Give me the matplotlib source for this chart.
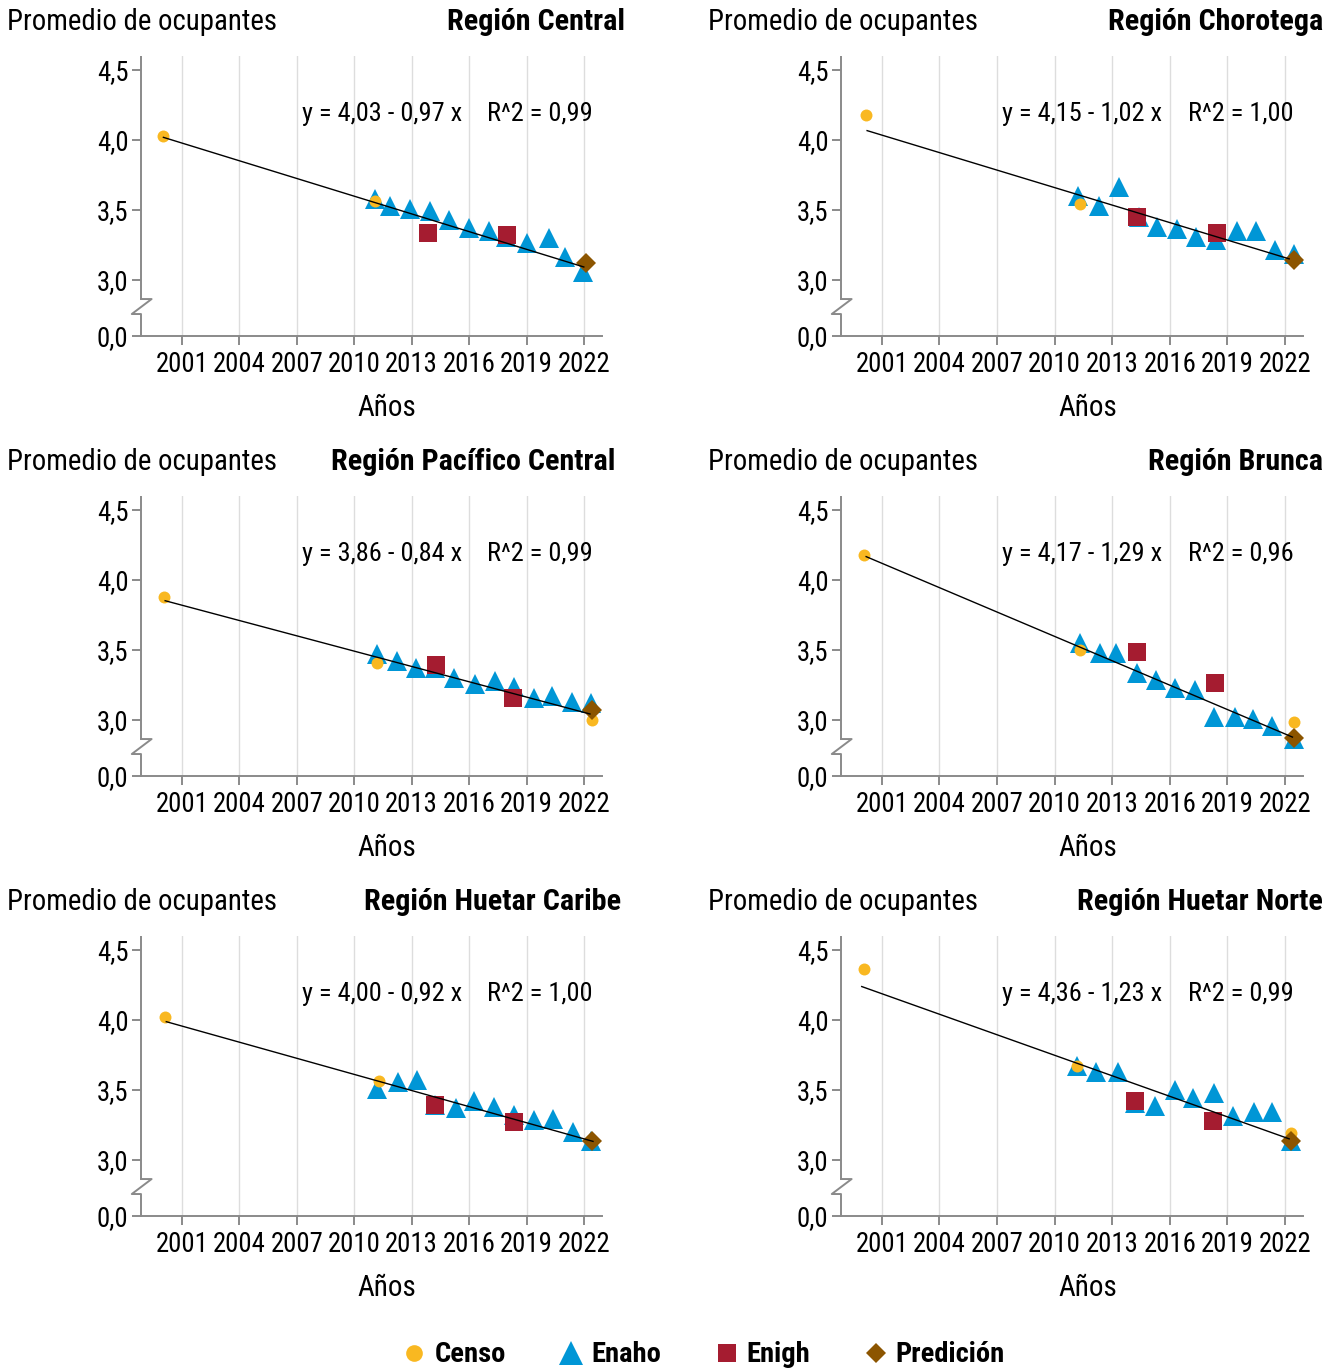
import numpy as np
import matplotlib
matplotlib.use('Agg')
import matplotlib.pyplot as plt
import matplotlib.transforms as mtransforms
from matplotlib import font_manager
from matplotlib.lines import Line2D

# --- data ---
regions = ['Región Central', 'Región Chorotega', 'Región Pacífico Central',
           'Región Brunca', 'Región Huetar Caribe', 'Región Huetar Norte']

censo_years = [[2000.04, 2011.10],
               [2000.15, 2011.30],
               [2000.08, 2011.19, 2022.43],
               [2000.09, 2011.30, 2022.48],
               [2000.13, 2011.30],
               [2000.09, 2011.19, 2022.34]]
censo_vals = [[4.031, 3.565],
              [4.182, 3.545],
              [3.880, 3.409, 3.002],
              [4.179, 3.500, 2.983],
              [4.024, 3.561],
              [4.366, 3.672, 3.194]]

enaho_years = [[2011.10, 2011.89, 2012.93, 2013.98, 2014.94, 2015.98, 2017.03, 2017.93, 2019.03, 2020.16, 2021.00, 2021.96],
               [2011.24, 2012.29, 2013.33, 2014.38, 2015.34, 2016.35, 2017.38, 2018.39, 2019.48, 2020.48, 2021.49, 2022.48],
               [2011.19, 2012.24, 2013.25, 2014.24, 2015.23, 2016.30, 2017.34, 2018.33, 2019.38, 2020.34, 2021.38, 2022.39],
               [2011.30, 2012.34, 2013.21, 2014.29, 2015.30, 2016.26, 2017.31, 2018.30, 2019.38, 2020.36, 2021.35, 2022.48],
               [2011.19, 2012.28, 2013.28, 2014.20, 2015.30, 2016.26, 2017.32, 2018.32, 2019.40, 2020.40, 2021.43, 2022.36],
               [2011.16, 2012.17, 2013.28, 2014.21, 2015.25, 2016.26, 2017.22, 2018.30, 2019.31, 2020.39, 2021.35, 2022.34]]
enaho_vals = [[3.581, 3.529, 3.505, 3.493, 3.428, 3.373, 3.352, 3.304, 3.261, 3.297, 3.163, 3.057],
              [3.603, 3.531, 3.665, 3.452, 3.378, 3.366, 3.306, 3.284, 3.352, 3.352, 3.215, 3.189],
              [3.469, 3.421, 3.368, 3.371, 3.299, 3.256, 3.278, 3.237, 3.158, 3.170, 3.127, 3.122],
              [3.550, 3.476, 3.481, 3.337, 3.289, 3.230, 3.213, 3.022, 3.024, 3.010, 2.959, 2.864],
              [3.508, 3.558, 3.568, 3.390, 3.368, 3.425, 3.378, 3.318, 3.283, 3.290, 3.197, 3.135],
              [3.675, 3.632, 3.632, 3.409, 3.385, 3.500, 3.443, 3.476, 3.313, 3.342, 3.342, 3.134]]

enigh_years = [[2013.86, 2017.99], [2014.29, 2018.44], [2014.29, 2018.30],
               [2014.29, 2018.33], [2014.23, 2018.32], [2014.21, 2018.26]]
enigh_vals = [[3.337, 3.323], [3.452, 3.337], [3.392, 3.158],
              [3.488, 3.266], [3.390, 3.271], [3.421, 3.282]]

pred_years = [2022.08, 2022.48, 2022.43, 2022.48, 2022.43, 2022.34]
pred_vals = [3.122, 3.141, 3.069, 2.871, 3.138, 3.134]

# fitted line end points (year, value)
fit_start = [(2000.04, 4.019), (2000.23, 4.067), (2000.13, 3.852),
             (2000.18, 4.167), (2000.19, 3.988), (1999.95, 4.239)]
fit_end = [(2021.99, 3.093), (2022.22, 3.151), (2022.31, 3.043),
           (2022.39, 2.878), (2022.47, 3.133), (2022.22, 3.151)]
fit_a = [4.03, 4.15, 3.86, 4.17, 4.00, 4.36]
fit_b = [0.97, 1.02, 0.84, 1.29, 0.92, 1.23]
fit_r2 = [0.99, 1.00, 0.99, 0.96, 1.00, 0.99]

year_ticks = [2001, 2004, 2007, 2010, 2013, 2016, 2019, 2022]
y_ticks = [3.0, 3.5, 4.0, 4.5]
ZERO_POS = 2.6   # where the 0,0 tick sits below the axis break

C_CENSO = '#F9B821'
C_ENAHO = '#0096D6'
C_ENIGH = '#A51C30'
C_PRED = '#8C5500'
GRAY = '#8a8a8a'

# --- fonts ---
fonts = font_manager.fontManager.ttflist
names = {f.name for f in fonts}
FONT = None
for cand in ['Roboto Condensed', 'Liberation Sans Narrow', 'Open Sans Condensed']:
    if cand in names:
        FONT = cand
        break
if FONT is None:
    FONT = 'DejaVu Sans'
    if any(f.name == 'DejaVu Sans' and 'condensed' in str(f.stretch) for f in fonts):
        plt.rcParams['font.stretch'] = 'condensed'
plt.rcParams['font.family'] = [FONT, 'DejaVu Sans']


def fmt(v):
    return f'{v:.2f}'.replace('.', ',')


W, H = 1331, 1369
fig = plt.figure(figsize=(W / 100, H / 100), dpi=100)

col_x = [(141, 602), (841, 1303)]
row_y = [(56, 336), (496, 776), (936, 1216)]
title_right = [625, 1323, 615, 1323, 621, 1323]

for i, region in enumerate(regions):
    r, c = divmod(i, 2)
    x0, x1 = col_x[c]
    y0, y1 = row_y[r]
    ax = fig.add_axes([x0 / W, 1 - y1 / H, (x1 - x0) / W, (y1 - y0) / H])
    ax.set_xlim(1998.87, 2022.94)
    ax.set_ylim(ZERO_POS, 4.6)

    ax.set_xticks(year_ticks)
    ax.set_xticklabels([str(y) for y in year_ticks])
    ax.set_yticks([ZERO_POS] + y_ticks)
    ax.set_yticklabels(['0,0'] + [f'{v:.1f}'.replace('.', ',') for v in y_ticks])
    ax.grid(axis='x', color='#dddddd', lw=1.0)
    ax.set_axisbelow(True)
    for s in ['top', 'right', 'left']:
        ax.spines[s].set_visible(False)
    ax.spines['bottom'].set_color(GRAY)
    ax.spines['bottom'].set_linewidth(1.4)
    ax.tick_params(axis='both', colors=GRAY, labelcolor='black', length=6.5,
                   width=1.4, labelsize=19.3)
    ax.tick_params(axis='x', pad=4)
    ax.tick_params(axis='y', pad=2.5)

    # y axis with a break
    tr = mtransforms.blended_transform_factory(ax.transAxes, ax.transData)
    ax.plot([0, 0], [2.864, 4.6], transform=tr, color=GRAY, lw=1.4,
            clip_on=False, solid_capstyle='butt')
    ax.plot([0, 0.023, -0.020, 0, 0], [2.864, 2.864, 2.757, 2.757, ZERO_POS],
            transform=tr, color=GRAY, lw=1.4, clip_on=False)

    ax.plot(enaho_years[i], enaho_vals[i], '^', ms=15, color=C_ENAHO, mew=0,
            zorder=3, clip_on=False)
    ax.plot(censo_years[i], censo_vals[i], 'o', ms=8.6, color=C_CENSO, mew=0,
            zorder=4, clip_on=False)
    ax.plot(enigh_years[i], enigh_vals[i], 's', ms=13, color=C_ENIGH, mew=0,
            zorder=5, clip_on=False)
    ax.plot([pred_years[i]], [pred_vals[i]], 'D', ms=10.2, color=C_PRED, mew=0,
            zorder=6, clip_on=False)
    ax.plot([fit_start[i][0], fit_end[i][0]], [fit_start[i][1], fit_end[i][1]],
            color='black', lw=1.0, zorder=7)

    ax.text(0.349, 0.793, f'y = {fmt(fit_a[i])} - {fmt(fit_b[i])} x',
            transform=ax.transAxes, ha='left', va='center', fontsize=19)
    ax.text(0.979, 0.793, f'R^2 = {fmt(fit_r2[i])}',
            transform=ax.transAxes, ha='right', va='center', fontsize=19)
    ax.text(0.534, -0.257, 'Años', transform=ax.transAxes, ha='center',
            va='center', fontsize=21)

    ty = 1 - (22 + 440 * r) / H
    fig.text((7 + 701 * c) / W, ty, 'Promedio de ocupantes', ha='left',
             va='center', fontsize=20.7)
    fig.text(title_right[i] / W, ty, region, ha='right', va='center',
             fontsize=21.7, fontweight='bold')

handles = [Line2D([], [], ls='none', marker='o', ms=12, color=C_CENSO, mew=0),
           Line2D([], [], ls='none', marker='^', ms=17, color=C_ENAHO, mew=0),
           Line2D([], [], ls='none', marker='s', ms=13, color=C_ENIGH, mew=0),
           Line2D([], [], ls='none', marker='D', ms=10.5, color=C_PRED, mew=0)]
fig.legend(handles, ['Censo', 'Enaho', 'Enigh', 'Predición'], loc='center',
           bbox_to_anchor=(704 / W, 1 - 1355 / H), ncol=4, frameon=False,
           prop={'weight': 'bold', 'size': 20.5}, handlelength=0.8,
           handletextpad=0.3, columnspacing=1.9, borderpad=0)

fig.savefig('out.png', dpi=100)
